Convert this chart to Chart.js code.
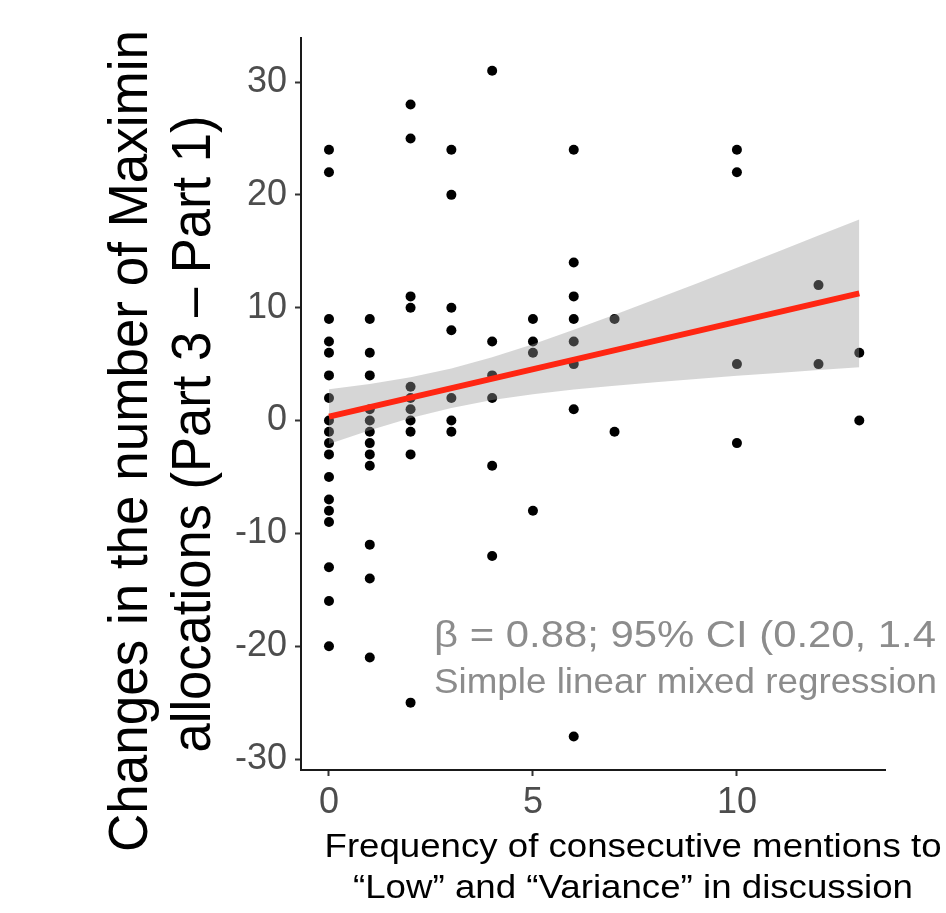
<!DOCTYPE html>
<html>
<head>
<meta charset="utf-8">
<script src="https://cdn.jsdelivr.net/npm/chart.js@4.4.1/dist/chart.umd.min.js"></script>
<style>
  html, body { margin: 0; padding: 0; background: #ffffff; overflow: hidden; }
  #wrap { width: 946px; height: 913px; }
</style>
</head>
<body>
<div id="wrap"><canvas id="c" width="946" height="913"></canvas></div>
<script>
// ---- Data ----
const ptX = [
  0,0,0,0,0,0,0,0,0,0,0,0,0,0,0,0,0,0,
  1,1,1,1,1,1,1,1,1,1,1,1,
  2,2,2,2,2,2,2,2,2,2,2,
  3,3,3,3,3,3,3,
  4,4,4,4,4,4,
  5,5,5,5,
  6,6,6,6,6,6,6,6,
  7,7,
  10,10,10,10,
  12,12,
  13,13
];
const ptY = [
  24,22,9,7,6,4,2,0,-1,-2,-3,-5,-7,-8,-9,-13,-16,-20,
  9,6,4,1,0,-1,-2,-3,-4,-11,-14,-21,
  28,25,11,10,3,2,1,0,-1,-3,-25,
  24,20,10,8,2,0,-1,
  31,7,4,2,-4,-12,
  9,7,6,-8,
  24,14,11,9,7,5,1,-28,
  9,-1,
  24,22,5,-2,
  12,5,
  6,0
];
// fitted line (read at its two ends)
const lineX = [0, 13];
const lineY = [0.35, 11.27];
// confidence band edges (read along the band)
const bandX     = [0, 1, 2, 3, 4, 5, 6, 7, 8, 9, 10, 11, 12, 13];
const bandUpper = [2.78, 3.24, 3.83, 4.62, 5.61, 6.77, 8.04, 9.37, 10.74, 12.13, 13.54, 14.96, 16.39, 17.82];
const bandLower = [-2.08, -0.86, 0.23, 1.12, 1.81, 2.32, 2.74, 3.09, 3.40, 3.69, 3.96, 4.22, 4.48, 4.72];
// tick labels
const xTickVals = [0, 5, 10];
const yTickVals = [-30, -20, -10, 0, 10, 20, 30];
// texts
const yTitleLines = ["Changes in the number of Maximin", "allocations (Part 3 \u2013 Part 1)"];
const xTitleLines = ["Frequency of consecutive mentions to", "\u201CLow\u201D and \u201CVariance\u201D in discussion"];
const noteLines = ["\u03B2 = 0.88; 95% CI (0.20, 1.4", "Simple linear mixed regression"];

const FONT = "'Liberation Sans', Arial, Helvetica, sans-serif";

const toXY = (xs, ys) => xs.map((x, i) => ({ x: x, y: ys[i] }));

// Text layer: draws titles / annotation with target extents
const textLayer = {
  id: 'textLayer',
  afterDraw(chart, args, opts) {
    const ctx = chart.ctx;
    opts.items.forEach(it => {
      ctx.save();
      ctx.font = it.size + 'px ' + FONT;
      ctx.fillStyle = it.color;
      ctx.textBaseline = 'alphabetic';
      const w = ctx.measureText(it.text).width;
      const sx = it.width / w;
      ctx.translate(it.x, it.y);
      if (it.rotate) ctx.rotate(-Math.PI / 2);
      ctx.scale(sx, 1);
      ctx.textAlign = it.align;
      ctx.fillText(it.text, 0, 0);
      ctx.restore();
    });
  }
};

const chart = new Chart(document.getElementById('c'), {
  type: 'scatter',
  data: {
    datasets: [
      {
        label: 'points',
        data: toXY(ptX, ptY),
        pointRadius: 5,
        pointHoverRadius: 5,
        backgroundColor: '#000000',
        borderWidth: 0,
        order: 3
      },
      {
        type: 'line',
        label: 'upper',
        data: toXY(bandX, bandUpper),
        borderWidth: 0,
        borderColor: 'rgba(0,0,0,0)',
        pointRadius: 0,
        backgroundColor: 'rgba(153,153,153,0.4)',
        fill: '+1',
        tension: 0,
        order: 2
      },
      {
        type: 'line',
        label: 'lower',
        data: toXY(bandX, bandLower),
        borderWidth: 0,
        borderColor: 'rgba(0,0,0,0)',
        pointRadius: 0,
        fill: false,
        tension: 0,
        order: 2
      },
      {
        type: 'line',
        label: 'fit',
        data: toXY(lineX, lineY),
        borderColor: '#ff2612',
        borderWidth: 6,
        pointRadius: 0,
        fill: false,
        order: 1
      }
    ]
  },
  options: {
    responsive: false,
    animation: false,
    devicePixelRatio: 1,
    layout: { padding: { top: 38, right: 61, left: 0, bottom: 0 } },
    plugins: {
      legend: { display: false },
      tooltip: { enabled: false },
      textLayer: {
        items: [
          { text: yTitleLines[0], size: 56, color: '#000000', x: 147, y: 441, width: 822, align: 'center', rotate: true },
          { text: yTitleLines[1], size: 56, color: '#000000', x: 210, y: 434, width: 637, align: 'center', rotate: true },
          { text: xTitleLines[0], size: 33.5, color: '#000000', x: 633, y: 857, width: 617, align: 'center' },
          { text: xTitleLines[1], size: 33.5, color: '#000000', x: 633, y: 898, width: 560, align: 'center' },
          { text: noteLines[0], size: 37, color: '#8c8c8c', x: 434, y: 647, width: 502, align: 'left' },
          { text: noteLines[1], size: 35, color: '#8c8c8c', x: 434, y: 693, width: 503, align: 'left' }
        ]
      }
    },
    scales: {
      x: {
        type: 'linear',
        min: -0.686,
        max: 13.63,
        afterFit(scale) { scale.height = 143; },
        afterBuildTicks(scale) { scale.ticks = xTickVals.map(v => ({ value: v })); },
        border: { display: true, color: '#1a1a1a', width: 2 },
        grid: { drawOnChartArea: false, drawTicks: true, tickLength: 6, tickColor: '#333333', tickWidth: 2 },
        ticks: { color: '#4d4d4d', font: { family: FONT, size: 36 }, padding: 5, maxRotation: 0 }
      },
      y: {
        type: 'linear',
        min: -30.97,
        max: 33.9,
        afterFit(scale) { scale.width = 301; },
        afterBuildTicks(scale) { scale.ticks = yTickVals.map(v => ({ value: v })); },
        border: { display: true, color: '#1a1a1a', width: 2 },
        grid: { drawOnChartArea: false, drawTicks: true, tickLength: 6, tickColor: '#333333', tickWidth: 2 },
        ticks: { color: '#4d4d4d', font: { family: FONT, size: 36 }, padding: 8 }
      }
    }
  },
  plugins: [textLayer]
});
</script>
</body>
</html>
